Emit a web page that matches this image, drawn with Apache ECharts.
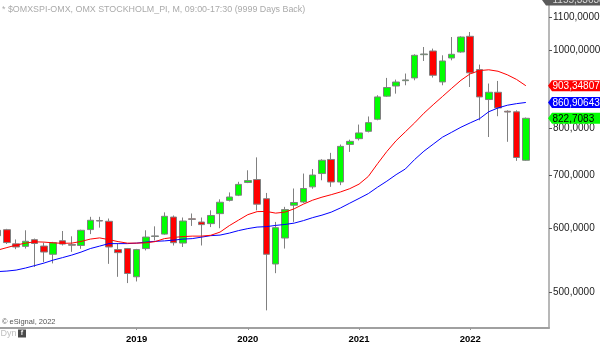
<!DOCTYPE html>
<html><head><meta charset="utf-8">
<script src="https://cdn.jsdelivr.net/npm/echarts@6/dist/echarts.min.js"></script>
<style>html,body{margin:0;padding:0;background:#fff}#c{width:600px;height:344px}</style>
</head><body><div id="c"></div>
<script>
const months = ['2017-10','2017-11','2017-12',
'2018-01','2018-02','2018-03','2018-04','2018-05','2018-06','2018-07','2018-08','2018-09','2018-10','2018-11','2018-12',
'2019-01','2019-02','2019-03','2019-04','2019-05','2019-06','2019-07','2019-08','2019-09','2019-10','2019-11','2019-12',
'2020-01','2020-02','2020-03','2020-04','2020-05','2020-06','2020-07','2020-08','2020-09','2020-10','2020-11','2020-12',
'2021-01','2021-02','2021-03','2021-04','2021-05','2021-06','2021-07','2021-08','2021-09','2021-10','2021-11','2021-12',
'2022-01','2022-02','2022-03','2022-04','2022-05','2022-06','2022-07','2022-08','2022-09'];

const opens  = [587.3,597.5,573.7,569.6,580.7,570.1,556.8,578.9,572.5,571.1,597.7,613.5,612.1,564.3,566.0,
  522.0,566.0,586.0,590.0,619.6,575.0,616.5,610.8,608.0,625.7,650.0,659.7,
  684.3,690.0,653.1,541.5,583.4,641.0,647.0,675.7,702.0,731.0,685.2,763.3,
  776.0,792.5,820.4,876.7,902.6,916.5,923.8,987.5,998.0,913.2,978.2,995.1,
  1041.0,946.1,868.2,886.5,839.5,838.1,729.3];
const closes = [596.5,575.8,568.6,578.0,574.3,560.4,575.6,573.4,571.5,596.5,613.9,612.5,568.6,559.4,526.9,
  564.3,585.0,587.0,620.9,575.6,612.6,615.5,606.3,622.4,646.5,656.3,680.5,
  688.0,642.9,556.8,601.0,633.0,646.0,672.5,699.0,729.3,685.2,759.0,770.0,
  788.8,812.5,874.7,898.6,913.0,918.5,985.8,989.5,930.8,969.8,988.6,1038.9,
  937.4,874.7,886.5,847.5,837.5,735.1,822.7083];
const lows   = [585.0,573.5,565.0,566.0,536.9,544.5,542.4,571.0,560.7,565.6,590.0,601.0,541.7,521.9,512.6,
  515.0,563.0,579.6,589.0,571.0,568.6,604.0,571.0,602.0,600.0,648.0,658.0,
  683.0,631.7,474.0,527.4,566.0,611.0,645.0,672.0,688.6,675.7,679.0,747.0,
  772.0,790.0,818.0,875.0,883.0,904.5,917.5,969.8,924.7,904.5,971.7,993.0,
  900.0,818.0,779.6,827.6,769.0,728.0,728.0];
const highs  = [600.0,599.0,581.0,596.5,582.5,575.6,577.0,595.3,586.3,597.5,620.0,620.0,617.0,574.0,567.0,
  565.5,596.5,603.3,628.0,622.4,618.8,626.0,618.8,631.7,652.0,665.0,685.6,
  708.6,735.4,664.0,611.0,638.0,672.5,702.0,711.2,731.5,745.0,763.0,773.8,
  808.0,827.0,879.0,923.8,919.3,935.5,988.6,1009.5,1004.9,985.8,1038.9,1041.0,
  1053.9,959.8,909.0,915.8,841.8,841.8,824.5];

const maRed  = [563.5,567.6,571.7,574.9,577.1,576.6,575.4,574.6,574.9,577.7,
  581.6,583.6,580.7,577.4,574.9,574.9,575.4,577.4,582.4,584.4,
  585.8,586.6,586.6,588.0,593.4,604.5,614.2,623.9,629.3,629.7,
  626.6,628.4,634.4,643.0,650.4,656.0,660.7,665.9,672.2,681.0,
  696.2,722.2,747.9,771.4,791.4,812.0,834.7,855.3,875.7,896.7,
  917.6,934.8,943.4,945.6,941.6,932.1,919.7,903.348077];
const maBlue = [529.8,530.6,532.1,535.2,539.0,542.9,547.6,551.5,555.5,560.3,
  566.0,570.0,574.1,574.1,574.1,574.9,576.6,577.9,578.6,579.9,
  581.6,582.4,584.9,587.4,588.3,591.7,596.0,599.4,602.0,602.8,
  604.9,606.6,608.9,613.3,618.6,623.0,628.4,636.0,644.8,653.6,
  662.7,675.1,686.8,699.8,711.3,730.9,748.5,763.7,779.2,790.4,
  801.9,812.0,821.7,838.3,847.5,854.1,858.0,860.906431];

const xYearLabels = ['2019', '2020', '2021', '2022'];
const yTicks = [500, 600, 700, 800, 900, 1000, 1100];
const yMin = 450.6;
const yMax = 1155.33638;
const titleText = '* $OMXSPI-OMX, OMX STOCKHOLM_PI, M, 09:00-17:30 (9999 Days Back)';
const copyText = '\u00a9 eSignal, 2022';

const FONT = "'Liberation Sans', Arial, sans-serif";
const chart = echarts.init(document.getElementById('c'), null, {renderer: 'canvas'});
const candleData = opens.map((o, i) => [o, closes[i], lows[i], highs[i]]);
const showYear = (i, v) => String(v).slice(5) === '01' && xYearLabels.indexOf(String(v).slice(0, 4)) >= 0;

chart.setOption({
  animation: false,
  backgroundColor: '#fff',
  grid: {left: -7, right: 51, top: 0, bottom: 16, containLabel: false, outerBoundsMode: 'none'},
  xAxis: {
    type: 'category', data: months, boundaryGap: true,
    axisLine: {show: true, lineStyle: {color: '#a0a0a0', width: 2}},
    axisTick: {show: true, alignWithLabel: true, interval: showYear, length: 2, lineStyle: {color: '#999'}},
    axisLabel: {interval: showYear, formatter: v => v.slice(0, 4), color: '#000', fontWeight: 'bold',
      fontSize: 9.5, fontFamily: FONT, margin: 6},
    splitLine: {show: false}
  },
  yAxis: {
    type: 'log', logBase: 10, min: yMin, max: yMax, position: 'right',
    axisLine: {show: true, lineStyle: {color: '#a0a0a0', width: 1.5}},
    axisTick: {show: false}, axisLabel: {show: false}, splitLine: {show: false},
    minorTick: {show: false}, minorSplitLine: {show: false}
  },
  series: [
    {type: 'candlestick', data: candleData, barWidth: 7, z: 2,
      itemStyle: {color: '#00ff00', color0: '#ff0000', borderColor: '#808080', borderColor0: '#808080',
        borderColorDoji: '#808080', borderWidth: 1}},
    {type: 'line', data: maBlue, symbol: 'none', showSymbol: false, z: 3,
      lineStyle: {color: '#0000ff', width: 1}},
    {type: 'line', data: maRed, symbol: 'none', showSymbol: false, z: 3,
      lineStyle: {color: '#ff0000', width: 1}}
  ]
});

const px = v => chart.convertToPixel({yAxisIndex: 0}, v);
const fmt = (v, d) => (d != null ? v.toFixed(d) : String(v)).replace('.', ',');
const g = [];
yTicks.forEach(t => {
  const y = Math.round(px(t)) + 0.5;
  g.push({type: 'line', silent: true, shape: {x1: 549, y1: y, x2: 552, y2: y}, style: {stroke: '#555', lineWidth: 1}, z: 5});
  g.push({type: 'text', silent: true, x: 553, y: y, z: 5,
    style: {text: fmt(t, 4), fontSize: 10, fontFamily: FONT, fill: '#222', align: 'left', verticalAlign: 'middle'}});
});
function tag(v, fill, textFill, tipX) {
  const y = px(v);
  g.push({type: 'polygon', silent: true, z: 10,
    shape: {points: [[tipX, y], [tipX + 4, y - 5.5], [600, y - 5.5], [600, y + 5.5], [tipX + 4, y + 5.5]]},
    style: {fill: fill}});
  g.push({type: 'text', silent: true, x: 552.5, y: y + 0.5, z: 11,
    style: {text: fmt(v), fontSize: 10, fontFamily: FONT, fill: textFill, align: 'left', verticalAlign: 'middle'}});
}
tag(yMax, '#5a5a5a', '#d8d8d8', 542);
tag(maRed[maRed.length - 1], '#ff0000', '#ffffff', 548);
tag(maBlue[maBlue.length - 1], '#0000ff', '#ffffff', 548);
tag(closes[closes.length - 1], '#00ff00', '#000000', 548);

g.push({type: 'text', silent: true, x: 2, y: 9.5, z: 5,
  style: {text: titleText, fontSize: 8.9, fontFamily: FONT, fill: '#aaaaaa', align: 'left', verticalAlign: 'middle'}});
g.push({type: 'text', silent: true, x: 2, y: 321.5, z: 5,
  style: {text: copyText, fontSize: 7.5, fontFamily: FONT, fill: '#555', align: 'left', verticalAlign: 'middle'}});
g.push({type: 'text', silent: true, x: 0.5, y: 334, z: 5,
  style: {text: 'Dyn', fontSize: 9, fontFamily: FONT, fill: '#c0c0c0', align: 'left', verticalAlign: 'middle'}});
g.push({type: 'rect', silent: true, shape: {x: 18, y: 329.5, width: 8, height: 8}, style: {fill: '#4a4a4a'}, z: 5});
g.push({type: 'text', silent: true, x: 22, y: 333.5, z: 6,
  style: {text: 'f', fontSize: 7, fontFamily: FONT, fontWeight: 'bold', fill: '#eee', align: 'center', verticalAlign: 'middle'}});

chart.setOption({graphic: g});
</script>
</body></html>
